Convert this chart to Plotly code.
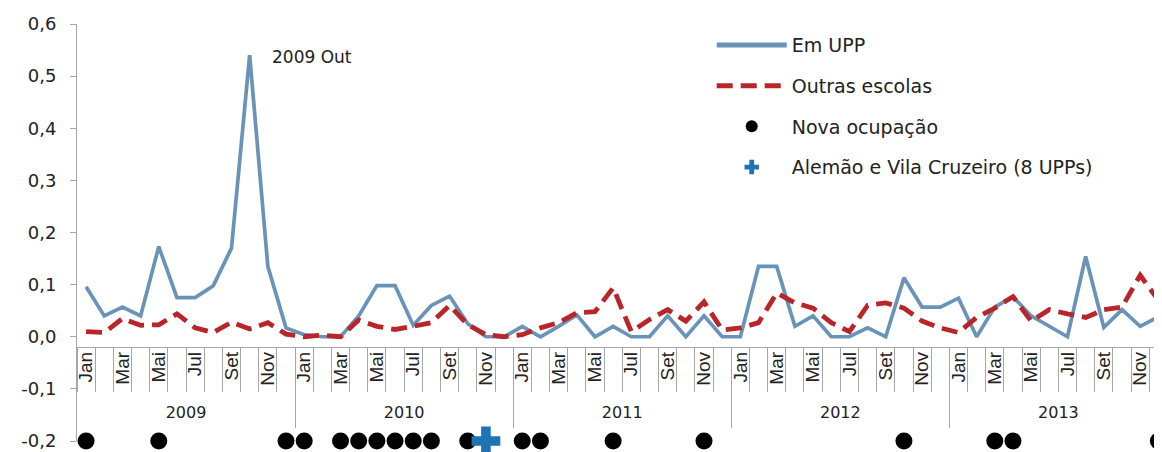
import plotly.graph_objects as go

# ---------------- data ----------------
anos = [2009, 2010, 2011, 2012, 2013]
meses = ["Jan", "Fev", "Mar", "Abr", "Mai", "Jun", "Jul", "Ago", "Set", "Out", "Nov", "Dez"]
meses_rotulo = ["Jan", "", "Mar", "", "Mai", "", "Jul", "", "Set", "", "Nov", ""]

em_upp = [
    0.096, 0.040, 0.057, 0.040, 0.173, 0.075, 0.075, 0.098, 0.170, 0.540, 0.135, 0.017,  # 2009
    0.004, 0.000, 0.000, 0.040, 0.098, 0.098, 0.022, 0.060, 0.078, 0.025, 0.000, 0.000,  # 2010
    0.020, 0.000, 0.020, 0.042, 0.000, 0.020, 0.000, 0.000, 0.040, 0.000, 0.040, 0.000,  # 2011
    0.000, 0.135, 0.135, 0.020, 0.040, 0.000, 0.000, 0.017, 0.000, 0.113, 0.057, 0.057,  # 2012
    0.074, 0.000, 0.057, 0.077, 0.040, 0.020, 0.000, 0.154, 0.018, 0.052, 0.020, 0.038,  # 2013
]
outras_escolas = [
    0.010, 0.008, 0.035, 0.022, 0.023, 0.044, 0.017, 0.008, 0.028, 0.015, 0.027, 0.005,  # 2009
    0.000, 0.003, 0.000, 0.032, 0.020, 0.014, 0.020, 0.027, 0.060, 0.023, 0.004, 0.000,  # 2010
    0.004, 0.017, 0.027, 0.046, 0.048, 0.094, 0.010, 0.033, 0.052, 0.030, 0.067, 0.013,  # 2011
    0.017, 0.027, 0.084, 0.065, 0.055, 0.027, 0.010, 0.060, 0.065, 0.055, 0.030, 0.017,  # 2012
    0.008, 0.037, 0.055, 0.077, 0.030, 0.052, 0.044, 0.037, 0.052, 0.057, 0.118, 0.070,  # 2013
]
nova_ocupacao = [
    "2009 Jan", "2009 Mai", "2009 Dez",
    "2010 Jan", "2010 Mar", "2010 Abr", "2010 Mai", "2010 Jun", "2010 Jul", "2010 Ago", "2010 Out",
    "2011 Jan", "2011 Fev", "2011 Jun", "2011 Nov",
    "2012 Out",
    "2013 Mar", "2013 Abr", "2013 Dez",
]
alemao = ["2010 Nov"]
nivel_eventos = -0.2
destaque = "2009 Out"

y_ticks = [-0.2, -0.1, 0.0, 0.1, 0.2, 0.3, 0.4, 0.5, 0.6]
y_ticktext = ["-0,2", "-0,1", "0,0", "0,1", "0,2", "0,3", "0,4", "0,5", "0,6"]

# ---------------- derived positions ----------------
periodos = [f"{a} {m}" for a in anos for m in meses]
pos = {p: i for i, p in enumerate(periodos)}
xs = list(range(len(periodos)))
n = len(periodos)
xr = [-0.5, n - 0.8]   # the last month runs past the right edge of the picture
limites_mes = [i - 0.5 for i in range(n + 1)]
centros_rot = [i for i in xs if meses_rotulo[i % 12]]
texto_rot = [meses_rotulo[i % 12] for i in centros_rot]
centros_ano = [k * 12 + 5.5 for k in range(len(anos))]
limites_ano = [k * 12 - 0.5 for k in range(1, len(anos))]

AXIS_Y = -0.02
yr = [-0.2, 0.6]
axis_pos = (AXIS_Y - yr[0]) / (yr[1] - yr[0])

BLUE = "#6a93b8"
RED = "#b8262a"
GRAY = "#a6a6a6"

fig = go.Figure()
fig.add_trace(go.Scatter(
    x=xs, y=em_upp, mode="lines", name="Em UPP",
    line=dict(color=BLUE, width=3.7), legendgroup="a",
))
fig.add_trace(go.Scatter(
    x=xs, y=outras_escolas, mode="lines", name="Outras escolas",
    line=dict(color=RED, width=4.8, dash="16px,8px"), legendgroup="b",
))
fig.add_trace(go.Scatter(
    x=[pos[p] for p in nova_ocupacao], y=[nivel_eventos] * len(nova_ocupacao),
    mode="markers", name="Nova ocupação", cliponaxis=False,
    marker=dict(color="black", size=17, symbol="circle"), legendgroup="c",
))
fig.add_trace(go.Scatter(
    x=[pos[p] for p in alemao], y=[nivel_eventos] * len(alemao),
    mode="markers", name="Alemão e Vila Cruzeiro (8 UPPs)", cliponaxis=False,
    marker=dict(color="#1f72b4", size=24, symbol="cross"), legendgroup="d",
))
# empty traces to register the extra axes
for ax in ["x2", "x3", "x4", "x5"]:
    fig.add_trace(go.Scatter(x=[], y=[], xaxis=ax, yaxis="y", showlegend=False, hoverinfo="skip"))

fig.add_annotation(
    x=pos[destaque], y=em_upp[pos[destaque]], text=destaque, showarrow=False,
    xanchor="left", yanchor="middle", xshift=20, yshift=-2,
    font=dict(family="DejaVu Sans", size=17, color="#222"),
)

common = dict(range=xr, overlaying="x", anchor="free", position=axis_pos,
              showgrid=False, zeroline=False, fixedrange=True)

# the page body adds an 8px offset; sizes/margins compensate so the plot sits where the reference has it
fig.update_layout(
    width=1154, height=444,
    margin=dict(l=69, r=0, t=16, b=11),
    paper_bgcolor="white", plot_bgcolor="white",
    showlegend=True,
    legend=dict(
        x=0.585, y=0.995, xanchor="left", yanchor="top",
        font=dict(family="DejaVu Sans", size=19, color="#222"),
        itemwidth=70, itemsizing="constant", traceorder="grouped", tracegroupgap=13,
        bgcolor="rgba(0,0,0,0)",
    ),
    xaxis=dict(range=xr, visible=False, fixedrange=True),
    xaxis2=dict(**common, tickmode="array", tickvals=limites_mes, ticktext=[""] * len(limites_mes),
                ticks="outside", ticklen=44, tickcolor=GRAY, tickwidth=1,
                showline=True, linecolor=GRAY, linewidth=1, showticklabels=False),
    xaxis3=dict(**common, tickmode="array", tickvals=centros_rot, ticktext=texto_rot,
                ticks="", showline=False, tickangle=-90,
                tickfont=dict(family="Liberation Sans Narrow, Liberation Sans", size=19, color="#222")),
    xaxis4=dict(**common, tickmode="array", tickvals=centros_ano, ticktext=[str(a) for a in anos],
                ticks="", showline=False, ticklabelstandoff=54,
                tickfont=dict(family="DejaVu Sans", size=16, color="#222")),
    xaxis5=dict(**common, tickmode="array", tickvals=limites_ano, ticktext=[""] * len(limites_ano),
                ticks="outside", ticklen=80, tickcolor=GRAY, tickwidth=1,
                showline=False, showticklabels=False),
    yaxis=dict(range=yr, tickmode="array", tickvals=y_ticks, ticktext=y_ticktext,
               showgrid=False, zeroline=False, showline=True, linecolor=GRAY, linewidth=1,
               ticks="outside", ticklen=6, tickcolor=GRAY, ticklabelstandoff=10,
               tickfont=dict(family="DejaVu Sans", size=18, color="#222"), fixedrange=True),
)

fig.write_html("out.html")
